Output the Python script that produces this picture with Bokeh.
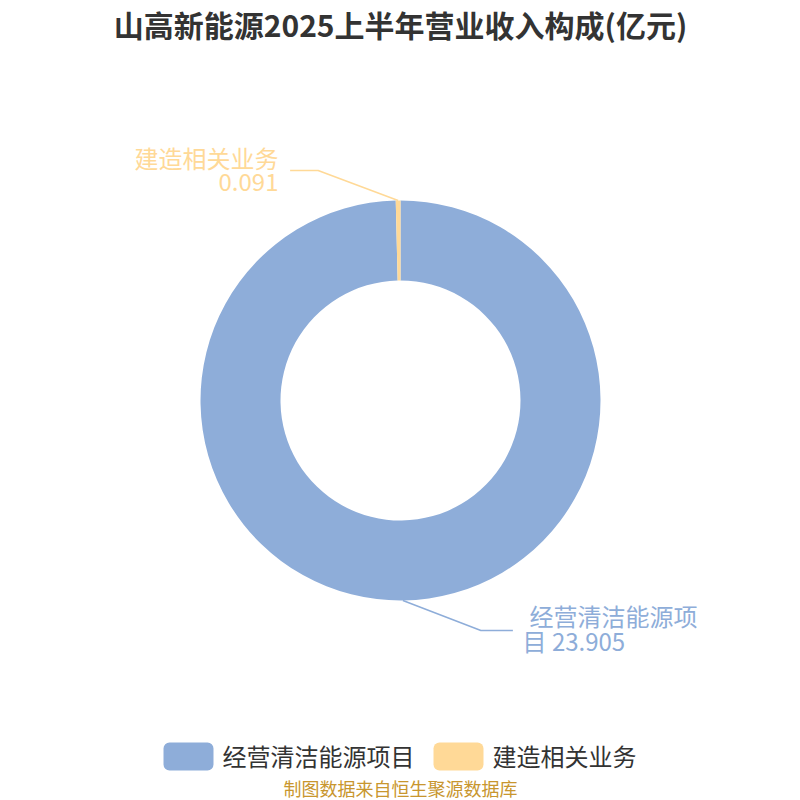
import numpy as np
from bokeh.plotting import figure
from bokeh.models import Range1d
from bokeh.core.properties import value
from bokeh.embed import file_html
from bokeh.resources import INLINE

# ---- data ----
title = "山高新能源2025上半年营业收入构成(亿元)"
categories = ["经营清洁能源项目", "建造相关业务"]
values = [23.905, 0.091]
value_labels = ["23.905", "0.091"]
colors = ["#8EADD9", "#FFD997"]
source_note = "制图数据来自恒生聚源数据库"

FONT = value("Noto Sans CJK SC")

W = H = 800
p = figure(width=W, height=H, output_backend="svg", toolbar_location=None,
           x_range=Range1d(0, 800), y_range=Range1d(0, 800),
           x_axis_location=None, y_axis_location=None,
           min_border=0, min_border_left=0, min_border_right=0,
           min_border_top=0, min_border_bottom=0)
p.grid.visible = False
p.outline_line_color = None
p.background_fill_color = "white"
p.border_fill_color = "white"


def Y(py):
    return 800 - py


# ---- donut ----
cx, cy = 400, Y(400)
r_in, r_out = 120, 200
vals = np.array(values, dtype=float)
frac = vals / vals.sum()
cum = np.cumsum(frac)
prev = np.concatenate([[0.0], cum[:-1]])
start = np.pi / 2 - 2 * np.pi * prev
end = np.pi / 2 - 2 * np.pi * cum
mid = (start + end) / 2

p.annular_wedge(x=[cx] * len(vals), y=[cy] * len(vals), inner_radius=r_in, outer_radius=r_out,
                start_angle=list(start), end_angle=list(end), direction="clock",
                fill_color=colors, line_color=None)

# ---- leader lines & labels ----
elbow = [(78, -30), (-80, 30)]     # layout offsets of elbow from slice edge
tail = [32, -28]                   # horizontal tail length
for i in range(len(vals)):
    sx = cx + r_out * np.cos(mid[i])
    sy = cy + r_out * np.sin(mid[i])
    ex, ey = sx + elbow[i][0], sy + elbow[i][1]
    tx = ex + tail[i]
    p.line([sx, ex, tx], [sy, ey, ey], line_color=colors[i], line_width=1.5)

LBL = "24px"
# label 0 (right side, left-aligned, wrapped)
lab0 = categories[0] + " " + value_labels[0]
p.text(x=[529], y=[Y(615)], text=[lab0[:7]], text_font=FONT, text_font_size=LBL,
       text_color=colors[0], text_align="left", text_baseline="middle")
p.text(x=[522], y=[Y(640)], text=[lab0[7:]], text_font=FONT, text_font_size=LBL,
       text_color=colors[0], text_align="left", text_baseline="middle")
# label 1 (left side, right-aligned)
p.text(x=[278], y=[Y(157)], text=[categories[1]], text_font=FONT, text_font_size=LBL,
       text_color=colors[1], text_align="right", text_baseline="middle")
p.text(x=[278], y=[Y(181)], text=[value_labels[1]], text_font=FONT, text_font_size=LBL,
       text_color=colors[1], text_align="right", text_baseline="middle")

# ---- title ----
p.text(x=[400], y=[Y(23)], text=[title], text_font=FONT, text_font_size="30px",
       text_font_style="bold", text_color="#333333", text_align="center", text_baseline="middle")

# ---- legend ----
sw_left = [163, 433]
sw_w = 50
for i in range(len(categories)):
    p.quad(left=[sw_left[i]], right=[sw_left[i] + sw_w], bottom=[Y(770)], top=[Y(742)],
           fill_color=colors[i], line_color=None, border_radius=6)
    p.text(x=[sw_left[i] + sw_w + 9], y=[Y(755)], text=[categories[i]], text_font=FONT,
           text_font_size=LBL, text_color="#333333", text_align="left", text_baseline="middle")

# ---- source note ----
p.text(x=[400], y=[Y(787)], text=[source_note], text_font=FONT, text_font_size="18px",
       text_color="#C8962E", text_align="center", text_baseline="middle")

open("out.html", "w").write(file_html(p, INLINE))
